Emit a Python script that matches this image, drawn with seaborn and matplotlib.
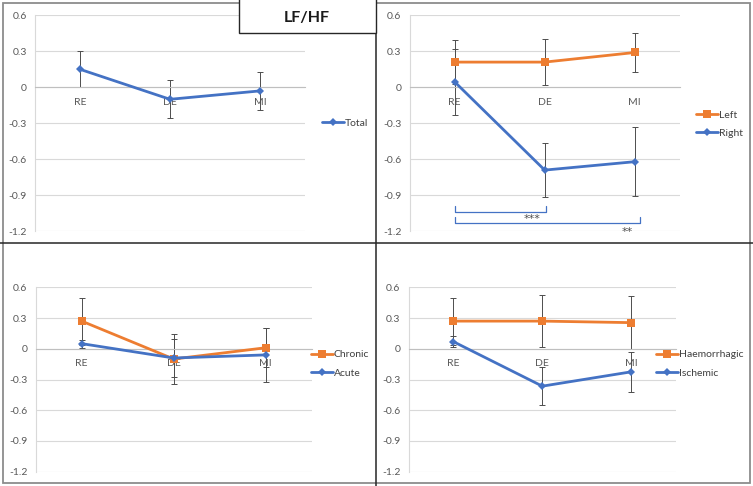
import numpy as np
import pandas as pd
import matplotlib
matplotlib.use("Agg")
import matplotlib.pyplot as plt
from matplotlib.patches import Rectangle
from matplotlib.lines import Line2D
import seaborn as sns

# ---------------- data ----------------
categories = ["RE", "DE", "MI"]
y_ticks = [0.6, 0.3, 0.0, -0.3, -0.6, -0.9, -1.2]
y_tick_labels = ["0.6", "0.3", "0", "-0.3", "-0.6", "-0.9", "-1.2"]

total_mean = [0.15, -0.10, -0.03]
total_err = [0.15, 0.16, 0.16]

left_mean = [0.21, 0.21, 0.29]
left_err = [0.18, 0.19, 0.165]
right_mean = [0.045, -0.69, -0.62]
right_err = [0.277, 0.222, 0.29]

chronic_mean = [0.27, -0.10, 0.01]
chronic_err = [0.23, 0.24, 0.19]
acute_mean = [0.05, -0.09, -0.06]
acute_err = [0.04, 0.19, 0.26]

haem_mean = [0.27, 0.27, 0.255]
haem_err = [0.23, 0.255, 0.26]
isch_mean = [0.07, -0.365, -0.225]
isch_err = [0.05, 0.185, 0.195]

title_text = "LF/HF"
sig_labels = ["***", "**"]

# ---------------- style ----------------
sns.set_theme(style="white")
plt.rcParams["font.family"] = ["Lato", "DejaVu Sans"]

BLUE = "#4472C4"
ORANGE = "#ED7D31"
GRID = "#D9D9D9"
TXT = "#595959"
FS = 7.5

W, H = 753, 486
fig = plt.figure(figsize=(W / 100, H / 100), dpi=100)
fig.patch.set_facecolor("white")


def px_axes(x0, y0, x1, y1):
    return fig.add_axes([x0 / W, 1 - y1 / H, (x1 - x0) / W, (y1 - y0) / H])


def make_df(series):
    rows = []
    for name, means in series:
        for i, c in enumerate(categories):
            rows.append({"pos": i, "cat": c, "value": means[i], "group": name})
    return pd.DataFrame(rows)


def style_axes(ax):
    ax.set_xlim(-0.5, len(categories) - 0.5)
    ax.set_ylim(-1.2, 0.6)
    ax.set_yticks(y_ticks)
    ax.set_yticklabels(y_tick_labels)
    ax.yaxis.grid(True, color=GRID, lw=0.8)
    ax.set_axisbelow(True)
    ax.tick_params(axis="y", length=0, pad=6, labelsize=FS, labelcolor=TXT)
    ax.set_xticks(range(len(categories)))
    ax.set_xticklabels(categories)
    ax.set_xticks(np.arange(-0.5, len(categories), 1.0), minor=True)
    ax.tick_params(axis="x", which="major", length=0, pad=7.5, labelsize=FS,
                   labelcolor=TXT)
    ax.tick_params(axis="x", which="minor", length=2.5, width=0.8,
                   color="#BFBFBF", direction="out")
    for s in ("top", "right"):
        ax.spines[s].set_visible(False)
    ax.spines["bottom"].set_position(("data", 0))
    ax.spines["bottom"].set_color("#BFBFBF")
    ax.spines["bottom"].set_linewidth(0.8)
    ax.spines["left"].set_color(GRID)
    ax.spines["left"].set_linewidth(0.8)
    ax.set_xlabel("")
    ax.set_ylabel("")
    ax.patch.set_alpha(0)


def draw_panel(ax, series, errs, colors, markers, sizes, legend_xy, spacing):
    df = make_df(series)
    names = [s[0] for s in series]
    for (name, means), err, col in zip(series, errs, colors):
        ax.errorbar(range(len(categories)), means, yerr=err, fmt="none",
                    ecolor="#4d4d4d", elinewidth=0.7, capsize=2.4,
                    capthick=0.7, zorder=2)
    for name, col, mk, ms in zip(names, colors, markers, sizes):
        sub = df[df["group"] == name]
        sns.lineplot(data=sub, x="pos", y="value", ax=ax, color=col,
                     marker=mk, markersize=ms, markeredgewidth=0,
                     linewidth=2.0, label=name, zorder=3, sort=False)
    style_axes(ax)
    handles, labels = ax.get_legend_handles_labels()
    ax.legend(handles, labels, loc="center left", bbox_to_anchor=legend_xy,
              bbox_transform=fig.transFigure, frameon=False, fontsize=FS,
              labelcolor="#404040", handlelength=2.1, handletextpad=0.1,
              borderpad=0, borderaxespad=0, labelspacing=spacing)


# Panel 1: Total
ax1 = px_axes(35, 15.3, 305, 231.3)
draw_panel(ax1, [("Total", total_mean)], [total_err], [BLUE], ["D"], [4.5],
           (322 / W, 1 - 123 / H), 0.8)

# Panel 2: Left / Right
ax2 = px_axes(409.7, 15.3, 679.7, 231.3)
draw_panel(ax2, [("Left", left_mean), ("Right", right_mean)],
           [left_err, right_err], [ORANGE, BLUE], ["s", "D"], [5.5, 4.5],
           (696 / W, 1 - 124 / H), 0.85)

# significance brackets
br = dict(color=BLUE, lw=0.9, zorder=4)
ax2.plot([0, 0, 1.01, 1.01], [-0.99, -1.04, -1.04, -0.99], **br)
ax2.plot([0, 0, 2.06, 2.06], [-1.083, -1.128, -1.128, -1.083], **br)
ax2.text(0.856, -1.10, sig_labels[0], ha="center", va="center",
         fontsize=8, color="#4d4d4d", family="DejaVu Sans")
ax2.text(1.918, -1.205, sig_labels[1], ha="center", va="center",
         fontsize=8, color="#4d4d4d", family="DejaVu Sans")

# Panel 3: Chronic / Acute
ax3 = px_axes(35.7, 287.3, 311.7, 471.7)
draw_panel(ax3, [("Chronic", chronic_mean), ("Acute", acute_mean)],
           [chronic_err, acute_err], [ORANGE, BLUE], ["s", "D"], [5.5, 4.5],
           (311 / W, 1 - 363.8 / H), 0.85)

# Panel 4: Haemorrhagic / Ischemic
ax4 = px_axes(408.8, 287.3, 675.8, 471.7)
draw_panel(ax4, [("Haemorrhagic", haem_mean), ("Ischemic", isch_mean)],
           [haem_err, isch_err], [ORANGE, BLUE], ["s", "D"], [5.5, 4.5],
           (656 / W, 1 - 363.8 / H), 0.85)

# frame / dividers
def fig_line(x0, y0, x1, y1, **kw):
    fig.add_artist(Line2D([x0 / W, x1 / W], [1 - y0 / H, 1 - y1 / H],
                          transform=fig.transFigure, **kw))

fig.add_artist(Rectangle((2.5 / W, 1 - 482.5 / H), (749.5 - 2.5) / W,
                         (482.5 - 3) / H, transform=fig.transFigure,
                         fill=False, edgecolor="#8C8C8C", lw=1.3))
fig_line(376, 0, 376, 486, color="#262626", lw=1.1)
fig_line(0, 243.3, 753, 243.3, color="#262626", lw=1.1)

# title box
fig.add_artist(Rectangle((239 / W, 1 - 32.7 / H), (376 - 239) / W, 40 / H,
                         transform=fig.transFigure, facecolor="white",
                         edgecolor="#262626", lw=1.0, zorder=5))
fig.text(306.5 / W, 1 - 18.3 / H, title_text, ha="center", va="center",
         fontsize=11.5, fontweight="bold", color="#1a1a1a", zorder=6)

fig.savefig("out.png", dpi=100, facecolor="white")
